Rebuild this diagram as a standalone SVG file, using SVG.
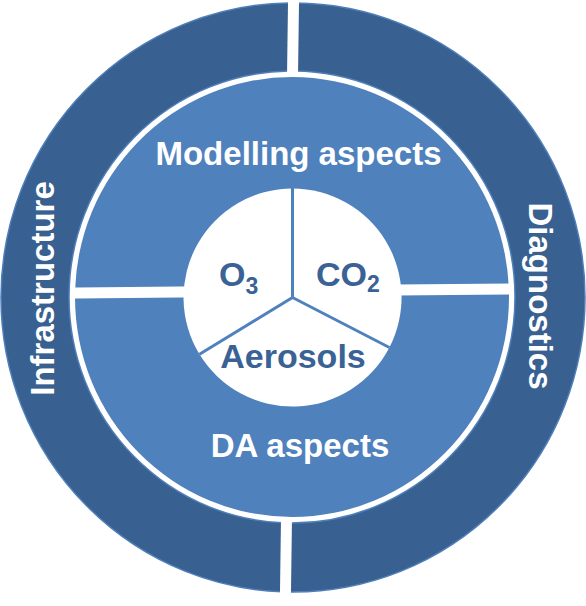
<svg xmlns="http://www.w3.org/2000/svg" width="586" height="606" viewBox="0 0 586 606">
<style>
.ring{fill:#386090;stroke:#4e7fb9;stroke-width:1.5;fill-rule:evenodd}
.mid{fill:#4f81bd}
.seg{fill:#ffffff}
.sep{stroke:#4f81bd;stroke-width:3;fill:none;stroke-linecap:butt}
.lbl{font-family:"Liberation Sans",Arial,sans-serif;font-weight:bold;font-size:33px;fill:#ffffff;text-anchor:middle}
.in{font-family:"Liberation Sans",Arial,sans-serif;font-weight:bold;font-size:34px;fill:#3a6294}
</style>
<defs>
<path id="ringShape" d="M 1 297.5 A 292 294.5 0 1 0 585 297.5 A 292 294.5 0 1 0 1 297.5 Z M 69 297 A 223 226 0 1 1 515 297 A 223 226 0 1 1 69 297 Z"/>
<clipPath id="ringL"><polygon points="0,0 288.04,0 279.8,606 0,606"/></clipPath>
<clipPath id="ringR"><polygon points="299.04,0 586,0 586,606 290.8,606"/></clipPath>
<clipPath id="midT"><polygon points="0,0 586,0 586,282.7 0,288.2"/></clipPath>
<clipPath id="midB"><polygon points="0,299.2 586,293.7 586,606 0,606"/></clipPath>
</defs>
<rect width="586" height="606" fill="#ffffff"/>
<g id="infrastructure">
<use href="#ringShape" class="ring" clip-path="url(#ringL)"/>
<text class="lbl" transform="translate(54,288.5) rotate(-90)">Infrastructure</text>
</g>
<g id="diagnostics">
<use href="#ringShape" class="ring" clip-path="url(#ringR)"/>
<text class="lbl" transform="translate(529,296) rotate(90)">Diagnostics</text>
</g>
<g id="modelling-aspects">
<ellipse class="mid" cx="292" cy="297" rx="217" ry="220" clip-path="url(#midT)"/>
<text class="lbl" x="298.5" y="165">Modelling aspects</text>
</g>
<g id="da-aspects">
<ellipse class="mid" cx="292" cy="297" rx="217" ry="220" clip-path="url(#midB)"/>
<text class="lbl" x="300" y="457">DA aspects</text>
</g>
<g id="o3">
<path class="seg" d="M 292.5 297.5 L 292.5 188.5 A 109 109 0 0 0 199.5 354.3 Z"/>
<text class="in" x="219" y="286">O<tspan font-size="23" dy="8">3</tspan></text>
</g>
<g id="co2">
<path class="seg" d="M 292.5 297.5 L 292.5 188.5 A 109 109 0 0 1 389.4 347.5 Z"/>
<text class="in" x="316" y="286">CO<tspan font-size="23" dy="6">2</tspan></text>
</g>
<g id="aerosols">
<path class="seg" d="M 292.5 297.5 L 389.4 347.5 A 109 109 0 0 1 199.5 354.3 Z"/>
<text class="in" x="293" y="368" text-anchor="middle">Aerosols</text>
</g>
<g id="connectors">
<line class="sep" x1="292.5" y1="188" x2="292.5" y2="297.5"/>
<line class="sep" x1="292.5" y1="297.5" x2="199.5" y2="354.3"/>
<line class="sep" x1="292.5" y1="297.5" x2="389.4" y2="347.5"/>
</g>
</svg>
